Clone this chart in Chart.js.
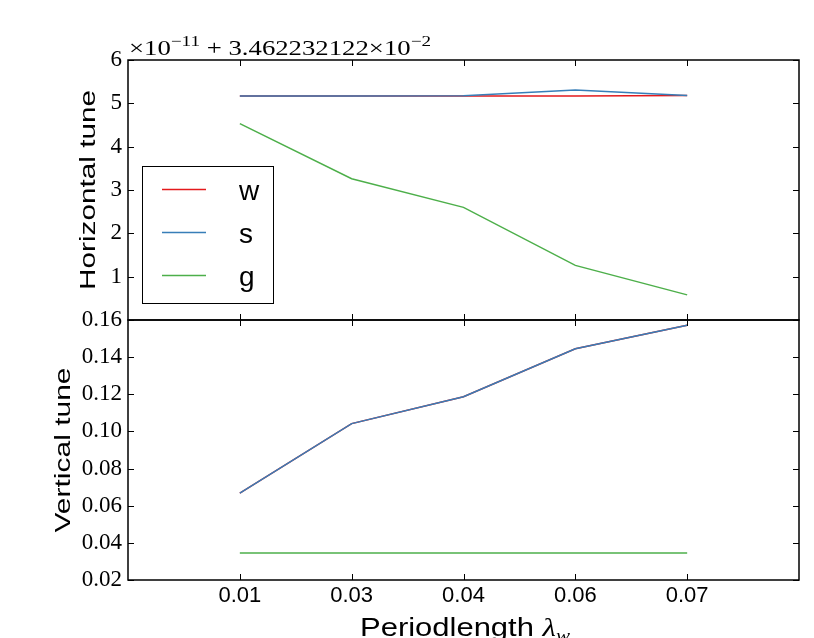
<!DOCTYPE html>
<html>
<head>
<meta charset="utf-8">
<script src="https://cdn.jsdelivr.net/npm/chart.js@4.4.1/dist/chart.umd.min.js"></script>
<style>
  html, body { margin: 0; padding: 0; background: #fff; }
  #wrap { width: 814px; height: 638px; }
</style>
</head>
<body>
<div id="wrap"><canvas id="tune" width="814" height="638"></canvas></div>
<script>
// period lengths (x categories)
const periods = ['0.01', '0.03', '0.04', '0.06', '0.07'];
// horizontal tune, in units of 1e-11 above the offset 3.462232122e-2
const horizW = [5.17, 5.17, 5.17, 5.17, 5.18];
const horizS = [5.17, 5.17, 5.175, 5.31, 5.18];
const horizG = [4.53, 3.26, 2.60, 1.26, 0.58];
// vertical tune
const vertW = [0.0668, 0.1042, 0.1187, 0.1445, 0.1572];
const vertS = [0.0668, 0.1042, 0.1187, 0.1445, 0.1572];
const vertG = [0.0346, 0.0346, 0.0346, 0.0346, 0.0346];
// tick labels
const horizTicks = [1, 2, 3, 4, 5, 6];
const vertTicks = [0.02, 0.04, 0.06, 0.08, 0.10, 0.12, 0.14, 0.16];

const RED = '#e41a1c', BLUE = '#377eb8', GREEN = '#4daf4a';
const SERIF = "'Liberation Serif', serif";
const SANS = "'Liberation Sans', Arial, sans-serif";

const pts = vals => vals.map((v, i) => ({ x: i, y: v }));

function line(label, vals, color, axis, order) {
	return {
		label: label,
		data: pts(vals),
		yAxisID: axis,
		borderColor: color,
		backgroundColor: color,
		borderWidth: 1.5,
		pointRadius: 0,
		fill: false,
		tension: 0,
		order: order,
	};
}

// draws a run of text pieces, squeezed/stretched to a given width
function drawRun(ctx, parts, x, y, width) {
	let total = 0;
	parts.forEach(p => { ctx.font = p.font; total += ctx.measureText(p.text).width; });
	ctx.save();
	ctx.translate(x, y);
	ctx.scale(width / total, 1);
	let cx = 0;
	parts.forEach(p => {
		ctx.font = p.font;
		ctx.fillText(p.text, cx, p.dy || 0);
		cx += ctx.measureText(p.text).width;
	});
	ctx.restore();
}

const decorations = {
	id: 'decorations',
	afterDraw(chart) {
		const { ctx, chartArea: area, scales } = chart;
		const xs = scales.x;
		ctx.save();
		ctx.fillStyle = '#000';
		ctx.strokeStyle = '#000';

		// frames and inward ticks for both panels
		[[scales.yTop, horizTicks], [scales.yBottom, vertTicks]].forEach(([ys, ticks]) => {
			ctx.lineWidth = 1;
			ctx.beginPath();
			ticks.forEach(v => {
				const py = Math.round(ys.getPixelForValue(v)) + 0.5;
				ctx.moveTo(area.left, py); ctx.lineTo(area.left + 6, py);
				ctx.moveTo(area.right, py); ctx.lineTo(area.right - 6, py);
			});
			periods.forEach((_, i) => {
				const px = Math.round(xs.getPixelForValue(i)) + 0.5;
				ctx.moveTo(px, ys.top); ctx.lineTo(px, ys.top + 6);
				ctx.moveTo(px, ys.bottom); ctx.lineTo(px, ys.bottom - 6);
			});
			ctx.stroke();
			ctx.lineWidth = 1.5;
			ctx.strokeRect(area.left, ys.top, area.right - area.left, ys.bottom - ys.top);
		});

		// legend inside the top panel
		const lx = area.left + 14, ly = scales.yTop.top + 106;
		ctx.lineWidth = 1;
		ctx.strokeRect(lx + 0.5, ly + 0.5, 131, 137);
		ctx.textBaseline = 'alphabetic';
		ctx.textAlign = 'left';
		chart.data.datasets.slice(0, 3).forEach((ds, i) => {
			const ry = Math.round(ly + 23 + i * 43) + 0.5;
			ctx.strokeStyle = ds.borderColor;
			ctx.lineWidth = 1.5;
			ctx.beginPath();
			ctx.moveTo(lx + 20, ry); ctx.lineTo(lx + 64, ry);
			ctx.stroke();
			ctx.font = '28px ' + SANS;
			ctx.fillText(ds.label, lx + 97, ry + 10);
		});

		// axis titles
		[['Horizontal tune', scales.yTop, area.left - 33, 200],
		 ['Vertical tune', scales.yBottom, area.left - 58, 165]].forEach(([text, ys, bx, len]) => {
			ctx.save();
			ctx.translate(bx, (ys.top + ys.bottom) / 2);
			ctx.rotate(-Math.PI / 2);
			drawRun(ctx, [{ text: text, font: '22px ' + SANS }], -len / 2, 0, len);
			ctx.restore();
		});
		drawRun(ctx, [
			{ text: 'Periodlength ', font: '25px ' + SANS },
			{ text: 'λ', font: 'italic 25px ' + SERIF },
			{ text: 'w', font: 'italic 17px ' + SERIF, dy: 5 },
		], 360, 636, 210);

		// offset text of the top panel
		drawRun(ctx, [
			{ text: '×10', font: '21px ' + SERIF },
			{ text: '−11', font: '15px ' + SERIF, dy: -9 },
			{ text: ' + 3.462232122×10', font: '21px ' + SERIF },
			{ text: '−2', font: '15px ' + SERIF, dy: -9 },
		], area.left + 1, area.top - 5, 302);

		ctx.restore();
	},
};

const yTicks = {
	color: '#000',
	font: { family: SERIF, size: 23 },
	padding: 6,
	autoSkip: false,
};

const ctx = document.getElementById('tune').getContext('2d');
new Chart(ctx, {
	type: 'line',
	data: {
		datasets: [
			line('w', horizW, RED, 'yTop', 1),
			line('s', horizS, BLUE, 'yTop', 0),
			line('g', horizG, GREEN, 'yTop', 2),
			line('w', vertW, RED, 'yBottom', 1),
			line('s', vertS, BLUE, 'yBottom', 0),
			line('g', vertG, GREEN, 'yBottom', 2),
		],
	},
	options: {
		responsive: false,
		animation: false,
		events: [],
		layout: { padding: { top: 60, right: 15, left: 0, bottom: 0 } },
		plugins: {
			legend: { display: false },
			tooltip: { enabled: false },
		},
		scales: {
			x: {
				type: 'linear',
				min: -1,
				max: 5,
				afterBuildTicks: axis => { axis.ticks = periods.map((_, i) => ({ value: i })); },
				afterFit: axis => { axis.height = 58; },
				ticks: {
					callback: v => periods[v],
					color: '#000',
					font: { family: SANS, size: 22 },
					padding: 3,
					maxRotation: 0,
					autoSkip: false,
				},
				grid: { drawOnChartArea: false, drawTicks: false },
				border: { display: false },
			},
			yBottom: {
				type: 'linear',
				position: 'left',
				stack: 'tune',
				stackWeight: 1,
				min: 0.02,
				max: 0.16,
				afterBuildTicks: axis => { axis.ticks = vertTicks.map(v => ({ value: v })); },
				afterFit: axis => { axis.width = 128; },
				ticks: Object.assign({ callback: v => v.toFixed(2) }, yTicks),
				grid: { drawOnChartArea: false, drawTicks: false },
				border: { display: false },
			},
			yTop: {
				type: 'linear',
				position: 'left',
				stack: 'tune',
				stackWeight: 1,
				min: 0,
				max: 6,
				afterBuildTicks: axis => { axis.ticks = horizTicks.map(v => ({ value: v })); },
				afterFit: axis => { axis.width = 128; },
				ticks: Object.assign({ callback: v => String(v) }, yTicks),
				grid: { drawOnChartArea: false, drawTicks: false },
				border: { display: false },
			},
		},
	},
	plugins: [decorations],
});
</script>
</body>
</html>
